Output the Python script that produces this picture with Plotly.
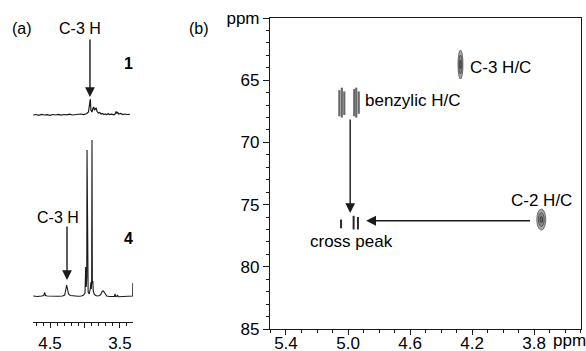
import plotly.graph_objects as go

W, H = 586, 351

# ---------------- Panel (a): 1D 1H spectra (ppm, relative intensity) ----------------
spec1_ppm = [4.74, 4.70, 4.66, 4.62, 4.58, 4.54, 4.50, 4.46, 4.42, 4.38, 4.34, 4.30, 4.26, 4.22,
             4.18, 4.14, 4.10, 4.06, 4.02, 3.98, 3.95, 3.935, 3.925, 3.915, 3.90, 3.885, 3.875,
             3.865, 3.85, 3.84, 3.83, 3.81, 3.79, 3.77, 3.75, 3.73, 3.71, 3.69, 3.67, 3.65, 3.62,
             3.59, 3.57, 3.555, 3.545, 3.535, 3.52, 3.49, 3.46, 3.43, 3.40, 3.36]
spec1_int = [0, 0.5, -0.3, 0.6, 0, 0.4, -0.4, 0.5, 0, 0.6, -0.2, 0.5, 0.2, 0.8,
             0, 0.5, 0.3, 1.0, 0.4, 1.2, 3, 15, 16, 5, 3, 7, 8,
             5, 6.5, 7, 4, 2, 2.5, 1, 1.5, 0.5, 1, 0.3, 1.5, 0.5, 0.8,
             0.2, 1, 3.5, 1.5, 3, 1, 1.5, 0.5, 1, 0.5, 0.7]

spec4_ppm = [4.74, 4.68, 4.62, 4.59, 4.575, 4.565, 4.54, 4.50, 4.44, 4.38, 4.32, 4.29, 4.275,
             4.262, 4.25, 4.235, 4.21, 4.16, 4.10, 4.05, 4.02, 4.00, 3.99, 3.982, 3.975, 3.971,
             3.966, 3.955, 3.94, 3.925, 3.915, 3.91, 3.905, 3.90, 3.895, 3.888, 3.882, 3.87,
             3.85, 3.82, 3.79, 3.77, 3.755, 3.74, 3.725, 3.71, 3.69, 3.65, 3.61, 3.58, 3.57,
             3.56, 3.545, 3.535, 3.525, 3.49, 3.44, 3.39, 3.34, 3.318, 3.316]
spec4_int = [1, 0.5, 1, 1.5, 4.5, 1.5, 1, 0.8, 0.5, 0.8, 1, 2, 7,
             12, 8, 3, 1.5, 1, 0.8, 1, 2, 4, 30, 10, 20, 147,
             20, 5, 3, 8, 15, 8, 14, 157, 14, 16, 6, 3,
             1.5, 1, 1.5, 3, 5.5, 6, 5, 2.5, 1, 0.5, 0.8, 0.5, 3,
             0.5, 0.8, 2, 0.3, 0.5, 0.3, 0.5, 0.8, 1, 14]

a_tick_vals = [4.5, 4.0, 3.5]
a_tick_text = ["4.5", "", "3.5"]

# ---------------- Panel (b): HSQC-type 2D map (1H ppm, 13C ppm) ----------------
blob_h = [4.275, 3.754]          # C-3 H/C, C-2 H/C
blob_c = [63.74, 76.2]
blob_dh = [0.032, 0.058]
blob_dc = [2.33, 1.69]

benzylic_h = [5.056, 5.040, 5.024, 4.960, 4.947, 4.931]
benzylic_c_lo = [65.8, 65.6, 65.9, 65.7, 65.6, 65.9]
benzylic_c_hi = [67.9, 68.0, 67.8, 67.9, 68.0, 67.7]

cross_h = [5.045, 4.964, 4.936]
cross_c_lo = [76.2, 75.9, 76.0]
cross_c_hi = [76.9, 77.0, 77.0]

b_x_ticks = [5.4, 5.0, 4.6, 4.2, 3.8]
b_x_text = ["5.4", "5.0", "4.6", "4.2", "3.8"]
b_y_ticks = [60, 65, 70, 75, 80, 85]
b_y_text = ["ppm", "65", "70", "75", "80", "85"]

FONT = "Liberation Sans, Arial, sans-serif"
INK = "#1a1a1a"

def seg(xs, lo, hi):
    X, Y = [], []
    for x, a, b in zip(xs, lo, hi):
        X += [x, x, None]
        Y += [a, b, None]
    return X, Y

fig = go.Figure()

# offsets of the stacked spectra (in y units of panel a)
OFF4, OFF1 = 25, 207
fig.add_trace(go.Scatter(x=spec1_ppm, y=[v + OFF1 for v in spec1_int], mode="lines",
                         line=dict(color=INK, width=1.2), xaxis="x", yaxis="y", hoverinfo="skip"))
fig.add_trace(go.Scatter(x=spec4_ppm, y=[v + OFF4 for v in spec4_int], mode="lines",
                         line=dict(color=INK, width=1.1), xaxis="x", yaxis="y", hoverinfo="skip"))

bx, by = seg(benzylic_h, benzylic_c_lo, benzylic_c_hi)
fig.add_trace(go.Scatter(x=bx, y=by, mode="lines", line=dict(color="#6a6a6a", width=2.2),
                         xaxis="x2", yaxis="y2", hoverinfo="skip"))
cx, cy = seg(cross_h, cross_c_lo, cross_c_hi)
fig.add_trace(go.Scatter(x=cx, y=cy, mode="lines", line=dict(color="#2a2a2a", width=2),
                         xaxis="x2", yaxis="y2", hoverinfo="skip"))

shapes = []
for h, c, dh, dc in zip(blob_h, blob_c, blob_dh, blob_dc):
    for f, fill, lc in [(1.0, "#a8a8a8", "#555555"), (0.65, "#8a8a8a", "#444444"), (0.3, "#666666", "#333333")]:
        shapes.append(dict(type="circle", xref="x2", yref="y2",
                           x0=h - dh * f / 2, x1=h + dh * f / 2,
                           y0=c - dc * f / 2, y1=c + dc * f / 2,
                           fillcolor=fill, line=dict(color=lc, width=0.8), layer="above"))

ann = []
def txt(text, x, y, xref="paper", yref="paper", xanchor="center", size=16, bold=False):
    ann.append(dict(text=("<b>%s</b>" % text) if bold else text, x=x, y=y, xref=xref, yref=yref,
                    xanchor=xanchor, yanchor="middle", showarrow=False,
                    font=dict(family=FONT, size=size, color="black")))

def arrow(x, y, ax, ay, xr, yr):
    ann.append(dict(text="", x=x, y=y, ax=ax, ay=ay, xref=xr, yref=yr, axref=xr, ayref=yr,
                    showarrow=True, arrowhead=2, arrowsize=1.4, arrowwidth=1.4, arrowcolor=INK))

P = lambda px: px / W
Q = lambda py: 1 - py / H

txt("(a)", P(22), Q(28))
txt("C-3 H", P(80), Q(28))
txt("1", P(128), Q(63), bold=True)
txt("C-3 H", P(58), Q(217))
txt("4", P(128), Q(238), bold=True)
txt("(b)", P(199), Q(28))
arrow(3.929, 322 - 97, 3.929, 322 - 38, "x", "y")
arrow(4.257, 322 - 280, 4.257, 322 - 225, "x", "y")

txt("C-3 H/C", 4.227, 63.94, "x2", "y2", xanchor="left", size=17)
txt("benzylic H/C", 4.902, 66.6, "x2", "y2", xanchor="left", size=17)
txt("cross peak", 4.979, 77.93, "x2", "y2", size=17)
txt("C-2 H/C", 3.751, 74.63, "x2", "y2", size=17)
txt("ppm", P(551), Q(340), xanchor="left", size=17)
arrow(4.986, 75.67, 4.986, 68.04, "x2", "y2")
arrow(4.883, 76.30, 3.817, 76.30, "x2", "y2")

common = dict(showgrid=False, zeroline=False, automargin=False, linecolor=INK, linewidth=1.2,
              tickcolor=INK, tickwidth=1.2, ticks="outside")

fig.update_layout(
    width=W, height=H, margin=dict(l=0, r=0, t=0, b=0, autoexpand=False),
    paper_bgcolor="white", plot_bgcolor="white", showlegend=False,
    font=dict(family=FONT, size=16, color="black"),
    shapes=shapes, annotations=ann,
    xaxis=dict(domain=[33 / W, 133 / W], range=[4.743, 3.314], anchor="y", showline=True,
               ticklen=5, tickvals=a_tick_vals, ticktext=a_tick_text,
               tickfont=dict(family=FONT, size=17),
               minor=dict(ticks="outside", ticklen=3, tickwidth=1, tickcolor=INK, dtick=0.1, tick0=0, showgrid=False),
               **common),
    yaxis=dict(domain=[1 - 322 / H, 1 - 18 / H], range=[0, 304], visible=False, anchor="x", automargin=False),
    xaxis2=dict(domain=[270 / W, 581 / W], range=[5.503, 3.498], anchor="y2", showline=True, mirror=True,
                ticklen=5, tickvals=b_x_ticks, ticktext=b_x_text, tickfont=dict(family=FONT, size=17),
                ticklabelstandoff=-7,
                minor=dict(ticks="outside", ticklen=3, tickwidth=1, tickcolor=INK, dtick=0.1, tick0=0, showgrid=False),
                **common),
    yaxis2=dict(domain=[1 - 329 / H, 1 - 18 / H], range=[85, 60], anchor="x2", showline=True, mirror=True,
                ticklen=6, tickvals=b_y_ticks, ticktext=b_y_text, tickfont=dict(family=FONT, size=17),
                minor=dict(ticks="outside", ticklen=3, tickwidth=1, tickcolor=INK, dtick=1, tick0=0, showgrid=False),
                **common),
)

fig.write_html("out.html", config={"displayModeBar": False},
               post_script="document.body.style.margin='0';document.body.style.overflow='hidden';")
